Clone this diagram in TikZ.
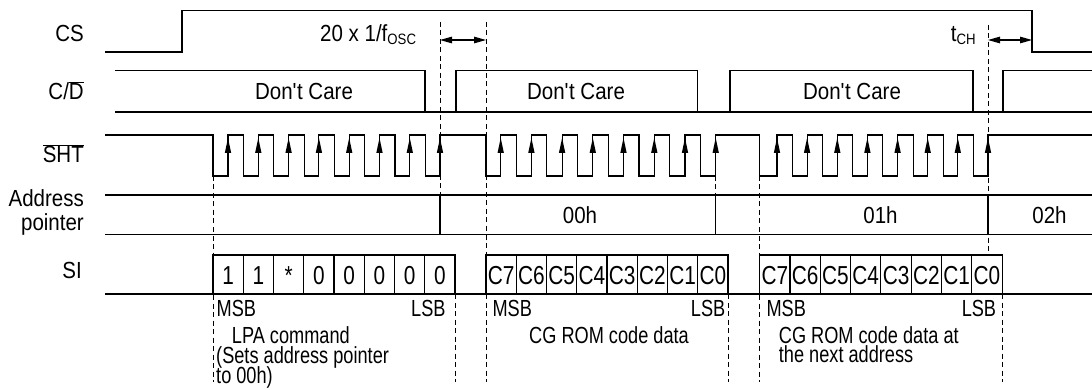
\documentclass[tikz,border=0pt]{standalone}
\usepackage{fontspec}
\setmainfont{Liberation Sans}[FakeStretch=0.88]
\newfontfamily\notefont{Liberation Sans}[FakeStretch=0.78]
\newfontfamily\cellfont{Liberation Sans}[FakeStretch=0.8]
\usetikzlibrary{arrows.meta}
\begin{document}
\begin{tikzpicture}[x=1pt,y=-1pt,
  sig/.style={line width=1.15pt, line join=miter},
  guide/.style={line width=0.8pt, dash pattern=on 5pt off 3.5pt},
  lbl/.style={inner sep=0pt, font=\fontsize{23.3}{24}\selectfont},
  note/.style={inner sep=0pt, text height=14pt, text depth=4pt, font=\notefont\fontsize{23.3}{24}\selectfont},
  celltxt/.style={inner sep=0pt, font=\cellfont\fontsize{26}{26}\selectfont},
  cellbox/.style={draw, line width=1.15pt},
  dim/.style={line width=1.15pt, {Triangle[length=12pt,width=6.5pt]}-{Triangle[length=12pt,width=6.5pt]}},
]
\useasboundingbox (0,0) rectangle (1092,390);
\fill[white] (0,0) rectangle (1092,390);

% ---- signal names
\node[lbl, anchor=base east] (lcs) at (84,41.7) {CS};
\node[lbl, anchor=base east] (lcd) at (84,100) {C/$\overline{\hbox{D}}$};
\node[lbl, anchor=base east] (lsht) at (84,163) {$\overline{\hbox{SHT}}$};
\node[lbl, anchor=base east, text height=15pt, text depth=3pt] (laddr1) at (84,206.7) {Address};
\node[lbl, anchor=base east, text height=15pt, text depth=5pt] (laddr2) at (84,230.5) {pointer};
\node[lbl, anchor=base east] (lsi) at (82,278.5) {SI};

% ---- guide (dashed) lines
\draw[guide] (213,176) -- (213,382);
\draw[guide] (440,22) -- (440,195);
\draw[guide] (486,22) -- (486,382);
\draw[guide] (715.7,176) -- (715.7,195);
\draw[guide] (759.7,176) -- (759.7,382);
\draw[guide] (988,25) -- (988,255);
\draw[guide] (455,294) -- (455,382);
\draw[guide] (728,294) -- (728,382);
\draw[guide] (1002,294) -- (1002,382);

% ---- CS
\draw[sig] (105,52) -- (182,52) -- (182,10.7) -- (1032,10.7) -- (1032,52) -- (1092,52);
\node[lbl, anchor=base west] (tosc) at (320,41.7) {20 x 1/f{\fontsize{15}{15}\selectfont\raisebox{-3pt}{OSC}}};
\node[lbl, anchor=base west] (tch) at (950.7,41.7) {t{\fontsize{15}{15}\selectfont\raisebox{-3pt}{CH}}};
\coordinate (d1a) at (440,40); \coordinate (d1b) at (486,40);
\coordinate (d2a) at (988,40); \coordinate (d2b) at (1032,40);
\draw[dim] (d1a) -- (d1b);
\draw[dim] (d2a) -- (d2b);

% ---- C/D
\draw[sig] (115,112) -- (1092,112);
\draw[sig] (115,70.5) -- (425,70.5) -- (425,112);
\draw[sig] (456,112) -- (456,70.5) -- (697.5,70.5) -- (697.5,112);
\draw[sig] (730,112) -- (730,70.5) -- (973,70.5) -- (973,112);
\draw[sig] (1003,112) -- (1003,70.5) -- (1092,70.5);
\node[lbl, anchor=base] (dc1) at (304,100) {Don\textquotesingle t Care};
\node[lbl, anchor=base] (dc2) at (576,100) {Don\textquotesingle t Care};
\node[lbl, anchor=base] (dc3) at (852,100) {Don\textquotesingle t Care};

% ---- SHT
\draw[sig] (105,135) -- (213,135) -- (213,176)
  foreach \r in {228,258.3,288.6,318.9,349.2,379.5,409.8} { -- (\r,176) -- (\r,135) -- (\r+15.5,135) -- (\r+15.5,176) }
  -- (440,176) -- (440,135) -- (486,135) -- (486,176)
  foreach \r in {500.7,531.4,562.1,592.8,623.5,654.3,685.0} { -- (\r,176) -- (\r,135) -- (\r+15.5,135) -- (\r+15.5,176) }
  -- (715.7,176) -- (715.7,135) -- (759.7,135) -- (759.7,176)
  foreach \r in {777,807.1,837.3,867.4,897.6,927.7,957.8} { -- (\r,176) -- (\r,135) -- (\r+15.5,135) -- (\r+15.5,176) }
  -- (988,176) -- (988,135) -- (1092,135);
\foreach \r in {228,258.3,288.6,318.9,349.2,379.5,409.8,440,
                500.7,531.4,562.1,592.8,623.5,654.3,685.0,715.7,
                777,807.1,837.3,867.4,897.6,927.7,957.8,988}
  \fill (\r,138) -- (\r-3.2,153) -- (\r+3.2,153) -- cycle;

% ---- Address pointer
\draw[sig] (105,195) -- (1092,195);
\draw[sig] (105,234.5) -- (1092,234.5);
\draw[sig] (440,195) -- (440,234.5);
\draw[sig] (715.7,195) -- (715.7,234.5);
\draw[sig] (988,195) -- (988,234.5);
\node[lbl, anchor=base] (a00) at (580,223.3) {00h};
\node[lbl, anchor=base] (a01) at (880.5,223.3) {01h};
\node[lbl, anchor=base] (a02) at (1049.5,223.3) {02h};

% ---- SI
\draw[sig] (105,294) -- (213,294);
\draw[sig] (455,294) -- (486,294);
\draw[sig] (728,294) -- (759.7,294);
\draw[sig] (1002,294) -- (1092,294);
\foreach [count=\i from 0] \t in {1,1,*,0,0,0,0,0} {
  \draw[cellbox] (213+30.25*\i,255) rectangle (243.25+30.25*\i,294);
  \node[celltxt, anchor=base] (p\i) at (228.1+30.25*\i,284) {\t};
}
\foreach [count=\i from 0] \t in {C7,C6,C5,C4,C3,C2,C1,C0} {
  \draw[cellbox] (486+30.25*\i,255) rectangle (516.25+30.25*\i,294);
  \node[celltxt, anchor=base] (q\i) at (501.1+30.25*\i,284) {\t};
}
\foreach [count=\i from 0] \t in {C7,C6,C5,C4,C3,C2,C1,C0} {
  \draw[cellbox] (759.7+30.3*\i,255) rectangle (790+30.3*\i,294);
  \node[celltxt, anchor=base] (s\i) at (774.85+30.3*\i,284) {\t};
}

% ---- notes
\node[note, anchor=base west] (m1) at (216.5,316.7) {MSB};
\node[note, anchor=base east] (l1) at (445.7,316.7) {LSB};
\node[note, anchor=base west] (n1a) at (231.7,343.3) {LPA command};
\node[note, anchor=base west] (n1b) at (216,363.3) {(Sets address pointer};
\node[note, anchor=base west] (n1c) at (216,383.3) {to 00h)};
\node[note, anchor=base west] (m2) at (492.3,316.7) {MSB};
\node[note, anchor=base east] (l2) at (725.5,316.7) {LSB};
\node[note, anchor=base west] (n2a) at (529,343.3) {CG ROM code data};
\node[note, anchor=base west] (m3) at (766.3,316.7) {MSB};
\node[note, anchor=base east] (l3) at (996.3,316.7) {LSB};
\node[note, anchor=base west] (n3a) at (778.7,343.3) {CG ROM code data at};
\node[note, anchor=base west] (n3b) at (778.7,362.7) {the next address};
\end{tikzpicture}
\end{document}
